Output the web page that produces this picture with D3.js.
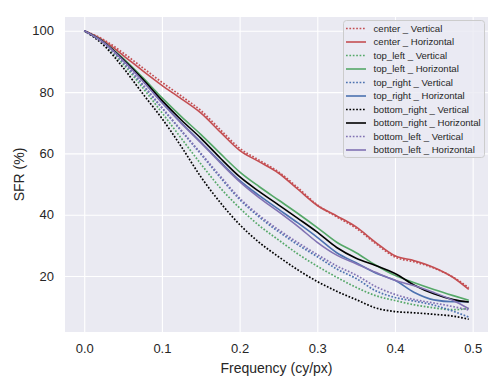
<!DOCTYPE html>
<html>
<head>
<meta charset="utf-8">
<script src="https://cdn.jsdelivr.net/npm/d3@7"></script>
<style>
  html, body { margin: 0; padding: 0; background: #fff; }
  svg { display: block; font-family: "Liberation Sans", Arial, sans-serif; }
</style>
</head>
<body>
<div id="chart"></div>
<script>
// SFR curves
const freq = [0, 0.025, 0.05, 0.075, 0.1, 0.125, 0.15, 0.175, 0.2, 0.225, 0.25,
  0.275, 0.3, 0.325, 0.35, 0.375, 0.4, 0.425, 0.45, 0.475, 0.495];

const centerV = [100, 97.1, 92.8, 88.0, 83.2, 78.7, 74.0, 67.8, 61.7, 57.8, 54.0,
  48.8, 43.2, 39.3, 35.6, 30.6, 26.2, 24.6, 22.6, 19.6, 16.2];
const centerH = [100, 96.8, 92.0, 87.0, 82.2, 77.8, 73.2, 67.0, 61.0, 57.3, 53.6,
  48.3, 43.0, 39.6, 36.0, 31.0, 26.6, 25.0, 22.8, 19.5, 15.6];
const topLeftV = [100, 95.7, 89.2, 81.5, 73.3, 64.9, 56.6, 48.8, 42.2, 36.5, 31.8,
  27.2, 23.2, 19.6, 16.3, 13.6, 12.0, 10.6, 9.6, 9.0, 9.4];
const topLeftH = [100, 96.4, 91.0, 84.8, 78.2, 72.0, 66.2, 60.0, 54.0, 49.2, 44.8,
  40.4, 35.8, 31.0, 27.6, 23.6, 20.2, 17.8, 15.6, 13.6, 12.1];
const topRightV = [100, 95.9, 89.8, 82.4, 74.8, 67.3, 59.8, 52.2, 45.0, 39.3, 34.5,
  30.2, 26.3, 22.3, 19.2, 15.2, 13.0, 11.8, 10.5, 8.5, 6.6];
const topRightH = [100, 96.2, 90.5, 83.9, 76.7, 70.0, 63.7, 57.3, 51.2, 46.3, 41.8,
  37.3, 32.6, 27.6, 24.3, 21.0, 18.6, 14.6, 12.2, 11.6, 11.6];
const bottomRightV = [100, 95.3, 88.0, 79.6, 71.4, 62.2, 52.4, 44.0, 36.8, 31.0, 26.3,
  22.0, 18.2, 15.0, 12.3, 9.6, 8.4, 8.0, 7.5, 6.9, 5.9];
const bottomRightH = [100, 96.3, 90.7, 84.3, 77.3, 70.9, 65.0, 58.5, 52.4, 47.6, 43.2,
  38.8, 34.3, 29.3, 25.8, 23.4, 20.8, 17.0, 14.2, 12.3, 11.5];
const bottomLeftV = [100, 95.9, 89.9, 82.6, 75.0, 67.5, 60.1, 52.6, 45.4, 39.8, 35.1,
  30.9, 27.0, 23.3, 20.3, 16.6, 14.0, 12.3, 11.2, 10.0, 8.9];
const bottomLeftH = [100, 96.2, 90.4, 83.7, 76.5, 69.8, 63.5, 57.0, 50.8, 45.6, 41.0,
  36.2, 31.0, 26.8, 24.0, 21.2, 18.6, 16.8, 14.6, 12.0, 9.3];

const seriesNames = ["center _ Vertical", "center _ Horizontal", "top_left _ Vertical",
  "top_left _ Horizontal", "top_right _ Vertical", "top_right _ Horizontal",
  "bottom_right _ Vertical", "bottom_right _ Horizontal", "bottom_left _ Vertical",
  "bottom_left _ Horizontal"];
const seriesValues = [centerV, centerH, topLeftV, topLeftH, topRightV, topRightH,
  bottomRightV, bottomRightH, bottomLeftV, bottomLeftH];
const seriesColors = ["#C44E52", "#C44E52", "#55A868", "#55A868", "#4C72B0", "#4C72B0",
  "#000000", "#000000", "#8172B3", "#8172B3"];
const seriesDotted = [true, false, true, false, true, false, true, false, true, false];

const xTicks = [0, 0.1, 0.2, 0.3, 0.4, 0.5];
const yTicks = [20, 40, 60, 80, 100];

const width = 504;
const height = 383;
const plot = { left: 65, right: 488, top: 17, bottom: 332 };
const textColor = "#262626";
const dotDash = "1.7 1.7";

const svg = d3.select("#chart")
  .append("svg")
  .attr("width", width)
  .attr("height", height)
  .attr("viewBox", `0 0 ${width} ${height}`);

const x = d3.scaleLinear().domain([-0.02475, 0.51975]).range([plot.left, plot.right]);
const y = d3.scaleLinear().domain([1.73, 104.5]).range([plot.bottom, plot.top]);

svg.append("rect")
  .attr("x", plot.left)
  .attr("y", plot.top)
  .attr("width", plot.right - plot.left)
  .attr("height", plot.bottom - plot.top)
  .attr("fill", "#EAEAF2");

// grid + tick labels via d3 axes
const xAxis = svg.append("g")
  .attr("transform", `translate(0,${plot.bottom})`)
  .call(d3.axisBottom(x).tickValues(xTicks).tickFormat(d3.format(".1f"))
    .tickSize(-(plot.bottom - plot.top)).tickPadding(12));
const yAxis = svg.append("g")
  .attr("transform", `translate(${plot.left},0)`)
  .call(d3.axisLeft(y).tickValues(yTicks).tickFormat(d3.format("d"))
    .tickSize(-(plot.right - plot.left)).tickPadding(11));

[xAxis, yAxis].forEach((ax) => {
  ax.select(".domain").remove();
  ax.selectAll(".tick line").attr("stroke", "#fff").attr("stroke-width", 1.1);
  ax.selectAll(".tick text")
    .attr("fill", textColor)
    .style("font-size", "13px")
    .style("font-family", "'Liberation Sans', Arial, sans-serif");
});

svg.append("clipPath").attr("id", "plot-clip")
  .append("rect")
  .attr("x", plot.left)
  .attr("y", plot.top)
  .attr("width", plot.right - plot.left)
  .attr("height", plot.bottom - plot.top);

const line = d3.line()
  .x((d) => x(d[0]))
  .y((d) => y(d[1]))
  .curve(d3.curveMonotoneX);

const lines = svg.append("g").attr("clip-path", "url(#plot-clip)");
seriesValues.forEach((vals, i) => {
  lines.append("path")
    .attr("d", line(freq.map((f, j) => [f, vals[j]])))
    .attr("fill", "none")
    .attr("stroke", seriesColors[i])
    .attr("stroke-width", seriesDotted[i] ? 1.7 : 1.6)
    .attr("stroke-dasharray", seriesDotted[i] ? dotDash : null);
});

// axis labels
svg.append("text")
  .attr("x", (plot.left + plot.right) / 2)
  .attr("y", 373)
  .attr("text-anchor", "middle")
  .attr("fill", textColor)
  .style("font-size", "14px")
  .text("Frequency (cy/px)");

svg.append("text")
  .attr("transform", `translate(24,${(plot.top + plot.bottom) / 2}) rotate(-90)`)
  .attr("text-anchor", "middle")
  .attr("fill", textColor)
  .style("font-size", "14px")
  .text("SFR (%)");

// legend
const legend = svg.append("g");
legend.append("rect")
  .attr("x", 343.5)
  .attr("y", 20.5)
  .attr("width", 141)
  .attr("height", 137)
  .attr("rx", 3)
  .attr("fill", "#EAEAF2")
  .attr("fill-opacity", 0.8)
  .attr("stroke", "#cccccc")
  .attr("stroke-width", 1);

seriesNames.forEach((name, i) => {
  const ly = 28.5 + i * 13.5;
  legend.append("line")
    .attr("x1", 346)
    .attr("x2", 366)
    .attr("y1", ly)
    .attr("y2", ly)
    .attr("stroke", seriesColors[i])
    .attr("stroke-width", seriesDotted[i] ? 1.7 : 1.6)
    .attr("stroke-dasharray", seriesDotted[i] ? dotDash : null);
  legend.append("text")
    .attr("x", 373.5)
    .attr("y", ly)
    .attr("dy", "0.35em")
    .attr("fill", textColor)
    .style("font-size", "9.6px")
    .text(name);
});
</script>
</body>
</html>
